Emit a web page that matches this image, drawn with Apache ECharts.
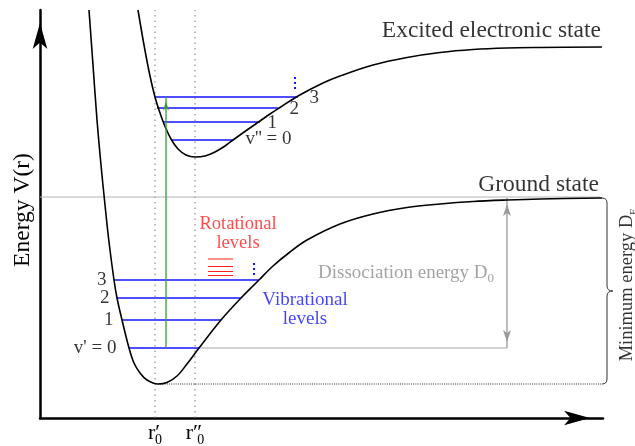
<!DOCTYPE html>
<html>
<head>
<meta charset="utf-8">
<script src="https://cdn.jsdelivr.net/npm/echarts@6/dist/echarts.min.js"></script>
<style>
  html, body { margin: 0; padding: 0; background: #fff; }
  #chart { width: 635px; height: 446px; }
</style>
</head>
<body>
<div id="chart"></div>
<script>
// Potential energy curves of a diatomic molecule (arbitrary units)
const groundR = [0.49, 0.53, 0.57, 0.61, 0.65, 0.69, 0.74, 0.77, 0.82, 0.89, 0.94, 1.00, 1.07, 1.18,
                 1.27, 1.37, 1.47, 1.59, 1.81, 2.01, 2.19, 2.33, 2.50, 2.67, 3.00, 3.33, 3.67, 4.00, 4.33, 4.67, 5.00, 5.62];
const groundV = [8.16, 7.06, 5.96, 5.06, 4.26, 3.52, 2.76, 2.40, 1.96, 1.40, 1.10, 0.90, 0.76, 0.68,
                 0.71, 0.84, 1.08, 1.40, 1.96, 2.40, 2.76, 3.04, 3.32, 3.56, 3.88, 4.08, 4.21, 4.28, 4.33, 4.36, 4.38, 4.40];
const excitedR = [0.98, 1.04, 1.10, 1.15, 1.19, 1.24, 1.31, 1.38, 1.46, 1.55,
                  1.65, 1.75, 1.85, 1.93, 2.07, 2.20, 2.30, 2.40, 2.58, 2.83, 3.00, 3.33, 3.67, 4.00, 4.33, 4.67, 5.00, 5.62];
const excitedV = [8.16, 7.46, 6.84, 6.42, 6.16, 5.88, 5.58, 5.38, 5.26, 5.22,
                  5.24, 5.32, 5.44, 5.56, 5.76, 5.94, 6.08, 6.21, 6.44, 6.70, 6.84, 7.06, 7.21, 7.31, 7.37, 7.40, 7.41, 7.42];

// Vibrational levels: energy and classical turning points
const groundLevelV = [1.40, 1.96, 2.40, 2.76];
const groundLevelRmin = [0.89, 0.82, 0.77, 0.74];
const groundLevelRmax = [1.59, 1.81, 2.01, 2.19];
const groundLevelNames = ["v' = 0", '1', '2', '3'];
const excitedLevelV = [5.56, 5.92, 6.20, 6.42];
const excitedLevelRmin = [1.31, 1.23, 1.17, 1.15];
const excitedLevelRmax = [1.93, 2.20, 2.38, 2.58];
const excitedLevelNames = ["v'' = 0", '1', '2', '3'];

// Rotational sublevels drawn above v' = 3
const rotationalV = [2.85, 2.93, 3.03, 3.18];
const rotationalR = [1.68, 1.93];

// "more levels" dots: r, lower and upper energy
const groundDotsR = 2.14, groundDots = [2.86, 3.10];
const excitedDotsR = 2.55, excitedDots = [6.58, 6.82];

// Equilibrium separations and their tick labels
const eqR = [1.15, 1.55];
const eqPrimes = ['\u2032', '\u2033'];

// Energies
const limitV = 4.42;          // dissociation limit
const groundTopV = 4.40;      // ground curve at large r
const groundMinR = 1.18, groundMinV = 0.68;
const d0ArrowR = 4.67;
const transitionR = 1.26;     // vertical transition v'=0 -> v''=3
const braceR = 5.62;
const axisMaxR = 5.63, axisMaxV = 8.16;

const SERIF = 'Liberation Serif';
const BLUE = '#1414ff', RED = '#ff2020', GRAY = '#8c8c8c', GREEN = '#3c9a3c';

function seg(x0, y0, x1, y1, style, extra) {
  return Object.assign({
    type: 'line', silent: true, symbol: 'none', animation: false,
    data: [[x0, y0], [x1, y1]], lineStyle: style, itemStyle: { color: style.color }
  }, extra || {});
}

const series = [];

// curves
series.push({
  type: 'line', silent: true, symbol: 'none', smooth: 0.35,
  data: groundR.map((r, i) => [r, groundV[i]]),
  lineStyle: { color: '#000', width: 1.6 }, z: 5
});
series.push({
  type: 'line', silent: true, symbol: 'none', smooth: 0.35,
  data: excitedR.map((r, i) => [r, excitedV[i]]),
  lineStyle: { color: '#000', width: 1.6 }, z: 5
});

// equilibrium separations (dotted verticals)
eqR.forEach(r => series.push(seg(r, 0, r, axisMaxV, { color: '#777', width: 1, type: [1.5, 4] })));

// dissociation limit and the minimum of the ground curve
series.push(seg(0, limitV, braceR - 0.02, limitV, { color: '#b4b4b4', width: 1 }));
series.push(seg(groundMinR, groundMinV, braceR, groundMinV, { color: '#333', width: 1, type: [1, 1.2] }));

// v'=0 extended to the D0 arrow
series.push(seg(groundLevelRmax[0], groundLevelV[0], d0ArrowR, groundLevelV[0], { color: '#a8a8a8', width: 1.2 }));

// vibrational levels
groundLevelV.forEach((v, i) => series.push(seg(groundLevelRmin[i], v, groundLevelRmax[i], v, { color: BLUE, width: 1.4 })));
excitedLevelV.forEach((v, i) => series.push(seg(excitedLevelRmin[i], v, excitedLevelRmax[i], v, { color: BLUE, width: 1.4 })));

// rotational sublevels
rotationalV.forEach(v => series.push(seg(rotationalR[0], v, rotationalR[1], v, { color: RED, width: 1.1 }, { z: 7 })));

// continuation dots
series.push(seg(groundDotsR, groundDots[0], groundDotsR, groundDots[1], { color: BLUE, width: 2, type: [2, 3] }));
series.push(seg(excitedDotsR, excitedDots[0], excitedDotsR, excitedDots[1], { color: BLUE, width: 2, type: [2, 3] }));

// D0 double arrow
series.push({
  type: 'line', silent: true, showSymbol: true, animation: false,
  lineStyle: { color: '#9a9a9a', width: 1.3 }, itemStyle: { color: '#9a9a9a' },
  data: [
    { value: [d0ArrowR, groundLevelV[0]], symbol: 'arrow', symbolSize: [6, 12], symbolRotate: 180, symbolOffset: [0, '-50%'] },
    { value: [d0ArrowR, groundTopV], symbol: 'arrow', symbolSize: [6, 12], symbolRotate: 0, symbolOffset: [0, '50%'] }
  ]
});

// electronic transition
series.push({
  type: 'line', silent: true, showSymbol: true, animation: false, z: 6,
  lineStyle: { color: GREEN, width: 1.3 }, itemStyle: { color: GREEN },
  data: [
    { value: [transitionR, groundLevelV[0]], symbol: 'none' },
    { value: [transitionR, excitedLevelV[3]], symbol: 'arrow', symbolSize: [4.5, 9], symbolOffset: [0, '50%'] }
  ]
});

// brace spanning the well depth
series.push({
  type: 'custom', silent: true, clip: false, animation: false,
  data: [[braceR, groundTopV, groundMinV]],
  renderItem: function (params, api) {
    const top = api.coord([api.value(0), api.value(1)]);
    const bot = api.coord([api.value(0), api.value(2)]);
    const x = top[0], y0 = top[1], y1 = bot[1], ym = (y0 + y1) / 2;
    const w = 5, tip = 6, c = 5;
    const d = 'M' + x + ',' + y0 +
      ' Q' + (x + w) + ',' + y0 + ' ' + (x + w) + ',' + (y0 + c) +
      ' L' + (x + w) + ',' + (ym - c) +
      ' Q' + (x + w) + ',' + ym + ' ' + (x + w + tip) + ',' + ym +
      ' Q' + (x + w) + ',' + ym + ' ' + (x + w) + ',' + (ym + c) +
      ' L' + (x + w) + ',' + (y1 - c) +
      ' Q' + (x + w) + ',' + y1 + ' ' + x + ',' + y1;
    return {
      type: 'path',
      shape: { pathData: d, x: x, y: y0, width: w + tip, height: y1 - y0, layout: 'cover' },
      style: { fill: 'none', stroke: '#333', lineWidth: 1 }
    };
  }
});

// level labels
function levelLabels(names, rs, vs, pos, dist, offs) {
  return {
    type: 'scatter', silent: true, symbolSize: 1, itemStyle: { color: 'transparent' }, animation: false, clip: false,
    data: names.map((n, i) => ({
      value: [rs[i], vs[i]],
      label: { show: true, formatter: n, position: pos, distance: dist[i], offset: [0, offs[i]],
               fontFamily: SERIF, fontSize: 19, color: '#000' }
    }))
  };
}
series.push(levelLabels(groundLevelNames, groundLevelRmin, groundLevelV, 'left', [12, 8, 7, 7], [0, 0, 0, 0]));
series.push(levelLabels(excitedLevelNames, excitedLevelRmax, excitedLevelV, 'right', [12, 7, 11, 11], [-1, 1, 1, 1]));

// annotations
const sub = { fontFamily: SERIF, fontSize: 13, lineHeight: 13, verticalAlign: 'bottom' };
function note(pos, label) {
  return { value: pos, label: Object.assign({ show: true, position: 'inside', fontFamily: SERIF }, label) };
}
series.push({
  type: 'scatter', silent: true, symbolSize: 1, itemStyle: { color: 'transparent' }, animation: false,
  z: 10, clip: false,
  data: [
    note([5.61, 7.74], { formatter: 'Excited electronic state', align: 'right', fontSize: 23.5, color: '#000' }),
    note([5.59, 4.66], { formatter: 'Ground state', align: 'right', fontSize: 23.5, color: '#000' }),
    note([1.98, 3.69], { formatter: 'Rotational\nlevels', align: 'center', fontSize: 18.5, lineHeight: 19, color: RED }),
    note([2.65, 2.16], { formatter: 'Vibrational\nlevels', align: 'center', fontSize: 19, lineHeight: 19, color: BLUE }),
    note([2.78, 2.90], {
      formatter: '{a|Dissociation energy D}{s|0}', align: 'left',
      rich: { a: { fontFamily: SERIF, fontSize: 19, lineHeight: 24, color: GRAY },
              s: Object.assign({ color: GRAY }, sub) }
    }),
    note([5.87, 2.66], {
      formatter: '{a|Minimum energy D}{s|E}', align: 'center', rotate: 90,
      rich: { a: { fontFamily: SERIF, fontSize: 18.5, lineHeight: 24, color: '#000' },
              s: Object.assign({ color: '#000' }, sub, { fontSize: 10, lineHeight: 12 }) }
    })
  ]
});

const chart = echarts.init(document.getElementById('chart'), null, { renderer: 'canvas' });
chart.setOption({
  animation: false,
  backgroundColor: '#fff',
  grid: { left: 40, right: 32, top: 10, bottom: 28, containLabel: false, outerBoundsMode: 'none' },
  xAxis: {
    type: 'value', min: 0, max: axisMaxR,
    name: 'Internuclear Separation r', nameLocation: 'middle', nameGap: 7,
    nameTextStyle: { fontFamily: SERIF, fontSize: 23.5, color: '#000', padding: [0, 0, 0, 108] },
    axisLine: { show: true, lineStyle: { color: '#000', width: 2.5 }, symbol: ['none', 'arrow'],
                symbolSize: [11, 26], symbolOffset: [0, -13] },
    axisTick: { show: false },
    splitLine: { show: false },
    axisLabel: {
      show: true, customValues: eqR, margin: 1,
      formatter: function (val) {
        const i = eqR.indexOf(val);
        return '{r|r' + eqPrimes[i] + '}{s|0}';
      },
      rich: {
        r: { fontFamily: SERIF, fontSize: 22, lineHeight: 28, color: '#000' },
        s: { fontFamily: SERIF, fontSize: 14, lineHeight: 14, verticalAlign: 'bottom', color: '#000',
             padding: [0, 0, 0, -5] }
      }
    }
  },
  yAxis: {
    type: 'value', min: 0, max: axisMaxV,
    name: 'Energy V(r)', nameLocation: 'middle', nameGap: 5, nameRotate: 90,
    nameTextStyle: { fontFamily: SERIF, fontSize: 23.5, color: '#000', padding: [0, 0, 0, 8] },
    axisLine: { show: true, lineStyle: { color: '#000', width: 2.5 }, symbol: ['none', 'arrow'],
                symbolSize: [11, 26], symbolOffset: [0, -13] },
    axisTick: { show: false },
    splitLine: { show: false },
    axisLabel: { show: false }
  },
  series: series
});
</script>
</body>
</html>
